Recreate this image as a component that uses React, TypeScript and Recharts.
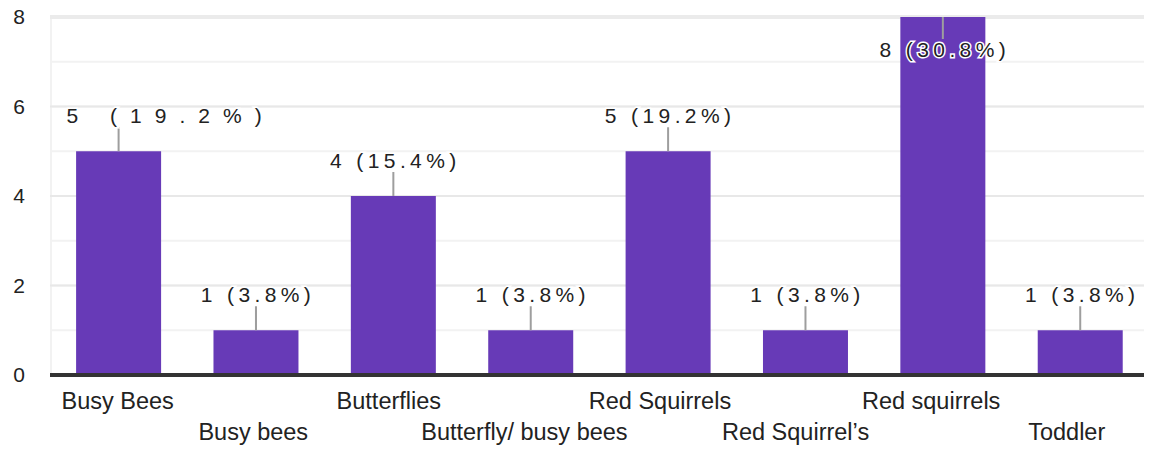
import { BarChart, Bar, XAxis, YAxis, CartesianGrid, LabelList } from "recharts";

const CATEGORIES = [
  "Busy Bees",
  "Busy bees",
  "Butterflies",
  "Butterfly/ busy bees",
  "Red Squirrels",
  "Red Squirrel\u2019s",
  "Red squirrels",
  "Toddler",
];
const COUNTS = [5, 1, 4, 1, 5, 1, 8, 1];
const Y_TICKS = [0, 1, 2, 3, 4, 5, 6, 7, 8];
const MAJOR_TICKS = [2, 4, 6];
const Y_MAX = 8;

const FONT = "'Liberation Sans', Arial, sans-serif";
const PURPLE = "#673ab7";

const total = COUNTS.reduce((s, v) => s + v, 0);
const data = CATEGORIES.map((name, i) => ({
  name,
  count: COUNTS[i],
  label: `${COUNTS[i]} (${((COUNTS[i] / total) * 100).toFixed(1)}%)`,
}));

const YTick = ({ y, payload }: any) => {
  if (payload.value % 2 !== 0) return null;
  return (
    <text x={17} y={y} dy="0.35em" textAnchor="end" fill="#222" fontSize={21} fontFamily={FONT}>
      {payload.value}
    </text>
  );
};

// category names sit on a slightly narrower pitch than the bars in the original
const XTick = ({ x, y, payload, index }: any) => (
  <text
    x={x - 1 - index * 1.8}
    y={y + (index % 2 === 0 ? 34 : 65)}
    textAnchor="middle"
    fill="#222"
    fontSize={23.5}
    fontFamily={FONT}
  >
    {payload.value}
  </text>
);

const renderLabel = (props: any) => {
  const { x, y, width, index } = props;
  const cx = x + width / 2;
  const inside = y < 45;
  const lineEnd = inside ? y + 22 : y - 24;
  const textY = inside ? y + 40 : y - 28;
  // the first annotation is drawn very spread out in the original
  const first = index === 0;
  return (
    <g>
      <line x1={cx} y1={y} x2={cx} y2={lineEnd} stroke="#9e9e9e" strokeWidth={2} />
      <text
        x={first ? cx - 52 : cx + 2}
        y={textY}
        textAnchor={first ? "start" : "middle"}
        fill="#222"
        fontSize={21}
        fontFamily={FONT}
        letterSpacing={first ? 13 : 4.4}
        stroke="#fff"
        strokeWidth={3}
        paintOrder="stroke"
      >
        {data[index].label}
      </text>
    </g>
  );
};

// pixel row of a y value inside the plot area (linear 0..Y_MAX scale)
const rowOf = (offset: any) => (v: number) => offset.top + offset.height * (1 - v / Y_MAX);

export default function App() {
  return (
    <BarChart
      width={1144}
      height={442}
      data={data}
      margin={{ top: 9, right: 3, bottom: 0, left: 0 }}
      barCategoryGap="19%"
    >
      <CartesianGrid
        stroke="#f2f2f2"
        strokeWidth={2}
        verticalCoordinatesGenerator={({ offset }: any) => [offset.left + 1, offset.left + offset.width]}
      />
      <CartesianGrid
        stroke="#e8e8e8"
        strokeWidth={2}
        vertical={false}
        horizontalCoordinatesGenerator={({ offset }: any) => MAJOR_TICKS.map(rowOf(offset))}
      />
      <CartesianGrid
        stroke="#ebebeb"
        strokeWidth={4}
        vertical={false}
        horizontalCoordinatesGenerator={({ offset }: any) => [offset.top]}
      />
      <YAxis
        width={42}
        domain={[0, Y_MAX]}
        ticks={Y_TICKS}
        interval={0}
        axisLine={false}
        tickLine={false}
        tick={<YTick />}
      />
      <XAxis
        dataKey="name"
        height={75}
        interval={0}
        tickLine={false}
        tickSize={0}
        tickMargin={0}
        axisLine={{ stroke: "#333", strokeWidth: 4 }}
        tick={<XTick />}
      />
      <Bar dataKey="count" fill={PURPLE} isAnimationActive={false}>
        <LabelList dataKey="count" content={renderLabel} />
      </Bar>
    </BarChart>
  );
}
